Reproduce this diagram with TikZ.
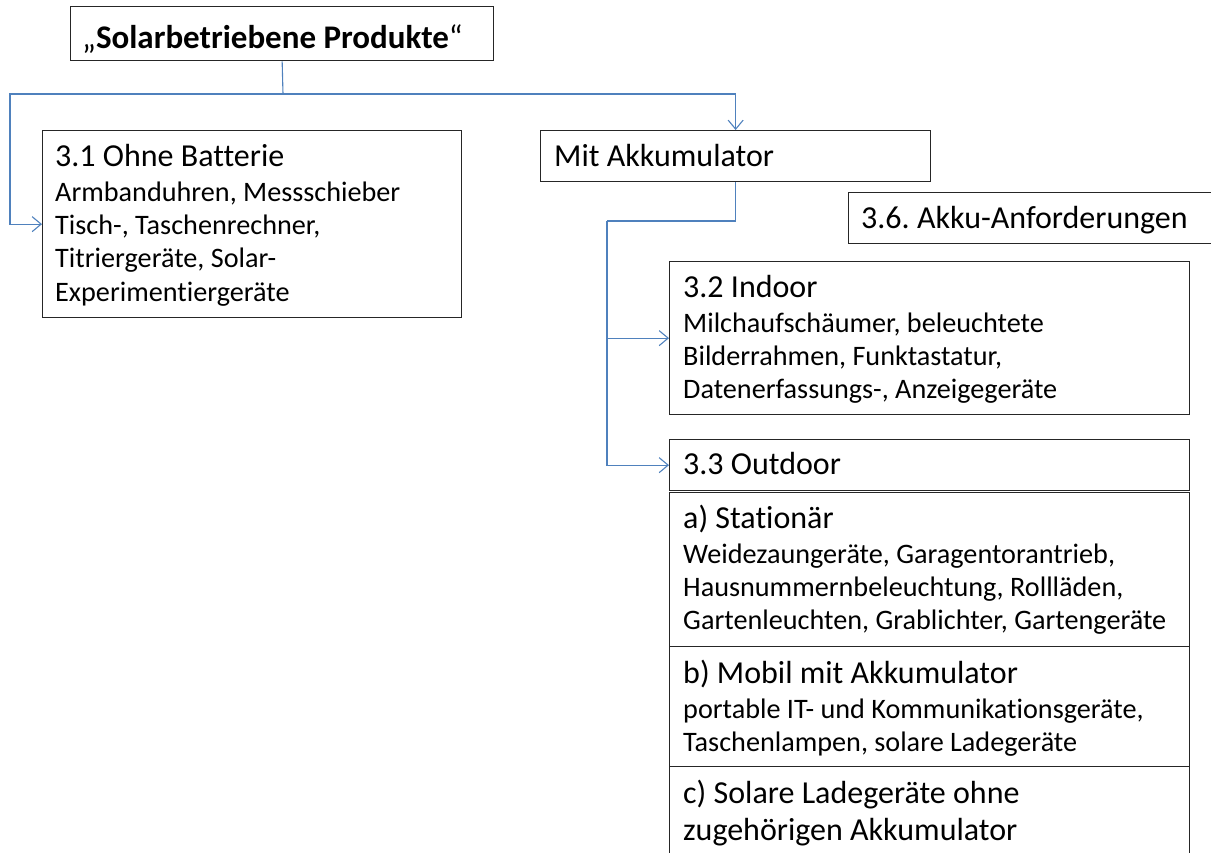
\documentclass[tikz,border=0pt]{standalone}
\usepackage{fontspec}
\setmainfont{Carlito}[Ligatures=NoCommon]
\usetikzlibrary{arrows.meta}
\frenchspacing

\definecolor{linkblue}{RGB}{79,129,189}
\newcommand{\hfnt}{\fontsize{32}{38}\selectfont}
\newcommand{\bfnt}{\fontsize{28.2}{33.3}\selectfont}

\tikzset{
  box/.style={draw=black!85, line width=1.3pt, anchor=north west, inner sep=0pt},
  txt/.style={anchor=base west, inner sep=0pt, align=left},
  wire/.style={draw=linkblue, line width=1.1pt},
  link/.style={wire, -{Straight Barb[length=9pt,width=15pt]}}
}

\begin{document}
\begin{tikzpicture}[x=1pt,y=1pt]
\useasboundingbox (0,0) rectangle (1211,-852);
\clip (0,0) rectangle (1211,-852);

\node[box, minimum width=423pt, minimum height=54pt] (prod) at (70,-6) {};
\node[txt] (prodtxt) at ([shift={(12,-42)}]prod.north west) {\fontsize{33}{38}\selectfont „\textbf{Solarbetriebene Produkte}“};

\node[box, minimum width=419pt, minimum height=187pt] (ohne) at (42,-130) {};
\node[txt] (ohnetxt) at ([shift={(13,-36)}]ohne.north west) {\parbox[t]{400pt}{\hfnt 3.1 Ohne Batterie\\[2pt]
  \bfnt Armbanduhren, Messschieber\\ Tisch-, Taschenrechner,\\ Titriergeräte, Solar-\\ Experimentiergeräte}};

\node[box, minimum width=390pt, minimum height=51pt] (akku) at (540,-130) {};
\node[txt] (akkutxt) at ([shift={(14,-36)}]akku.north west) {\hfnt Mit Akkumulator};

\node[box, minimum width=380pt, minimum height=51pt] (anf) at (848,-192) {};
\node[txt] (anftxt) at ([shift={(13,-36)}]anf.north west) {\hfnt 3.6. Akku-Anforderungen};

\node[box, minimum width=520pt, minimum height=153pt] (indoor) at (669,-261) {};
\node[txt] (indoortxt) at ([shift={(14,-36)}]indoor.north west) {\parbox[t]{500pt}{\hfnt 3.2 Indoor\\[2pt]
  \bfnt Milchaufschäumer, beleuchtete\\ Bilderrahmen, Funktastatur,\\ Datenerfassungs-, Anzeigegeräte}};

\node[box, minimum width=520pt, minimum height=51pt] (outdoor) at (669,-439) {};
\node[txt] (outdoortxt) at ([shift={(14,-35)}]outdoor.north west) {\hfnt 3.3 Outdoor};

\node[box, minimum width=520pt, minimum height=154pt] (stat) at (669,-492) {};
\node[txt] (stattxt) at ([shift={(14,-36)}]stat.north west) {\parbox[t]{500pt}{\hfnt a) Stationär\\[2pt]
  \bfnt Weidezaungeräte, Garagentorantrieb,\\ Hausnummernbeleuchtung, Rollläden,\\ Gartenleuchten, Grablichter, Gartengeräte}};

\node[box, minimum width=520pt, minimum height=120pt] (mobil) at (669,-646) {};
\node[txt] (mobiltxt) at ([shift={(14,-37)}]mobil.north west) {\parbox[t]{500pt}{\hfnt b) Mobil mit Akkumulator\\[2pt]
  \bfnt portable IT- und Kommunikationsgeräte,\\ Taschenlampen, solare Ladegeräte}};

\node[box, minimum width=520pt, minimum height=110pt] (lade) at (669,-766) {};
\node[txt] (ladetxt) at ([shift={(14,-37)}]lade.north west) {\parbox[t]{500pt}{\hfnt\baselineskip=37pt c) Solare Ladegeräte ohne\\ zugehörigen Akkumulator}};

\coordinate (bus) at (283,-94);
\coordinate (busleft) at (10,-94);
\coordinate (bend) at (607,-221);

\draw[wire] (prod.south) -- (bus);
\draw[link] (bus) -- (busleft) |- (ohne.west);
\draw[link] (bus) -| (akku.north);
\draw[wire] (akku.south) |- (bend);
\draw[link] (bend) |- (indoor.west);
\draw[link] (bend) |- (outdoor.west);
\end{tikzpicture}
\end{document}
